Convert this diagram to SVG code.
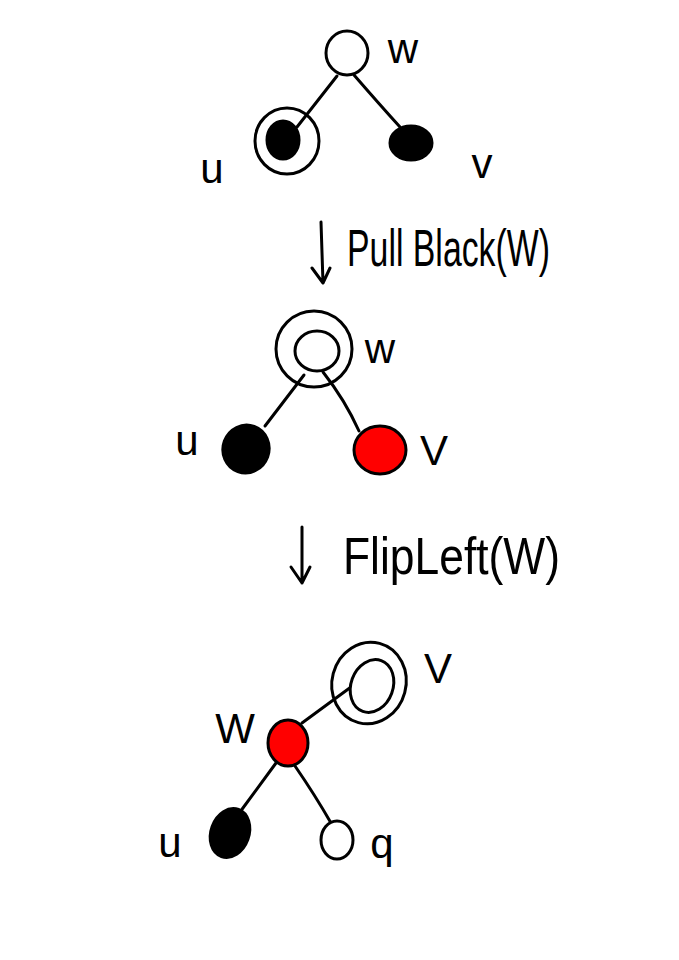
<svg xmlns="http://www.w3.org/2000/svg" width="679" height="960" viewBox="0 0 679 960">
<style>
.ln{fill:none;stroke:#000;stroke-width:3;stroke-linecap:round;stroke-linejoin:round}
.wh{fill:#fff;stroke:#000;stroke-width:3}
.bk{fill:#000;stroke:#000;stroke-width:3}
.rd{fill:#ff0000;stroke:#000;stroke-width:3}
.ring{fill:none;stroke:#000;stroke-width:3}
.lb{font-family:"Liberation Sans","DejaVu Sans",sans-serif;font-size:42px;fill:#000;text-anchor:middle}
.op{font-family:"Liberation Sans","DejaVu Sans",sans-serif;font-size:52px;fill:#000}
</style>
<rect width="679" height="960" fill="#fff"/>
<g id="connectors">
  <path class="ln" d="M337,76 L297,127"/>
  <path class="ln" d="M354,75 Q380,105 400,127"/>
  <path class="ln" d="M304,375 L265,426"/>
  <path class="ln" d="M323,372 Q345,400 359,431"/>
  <path class="ln" d="M302,723 L351,687"/>
  <path class="ln" d="M276,763 L240,812"/>
  <path class="ln" d="M295,766 Q315,795 331,823"/>
  <path class="ln" d="M321,222 L323,283 M312,268 L323,283 L330,268"/>
  <path class="ln" d="M302,527 L302,583 M291,567 L302,583 L310,567"/>
</g>
<g id="op1"><text class="op" x="347" y="266" textLength="203" lengthAdjust="spacingAndGlyphs">Pull Black(W)</text></g>
<g id="op2"><text class="op" x="343" y="574" textLength="217" lengthAdjust="spacingAndGlyphs">FlipLeft(W)</text></g>
<g id="t1-w">
  <ellipse class="wh" cx="347" cy="53" rx="21" ry="22"/>
  <text class="lb" x="403" y="63">w</text>
</g>
<g id="t1-u">
  <ellipse class="bk" cx="283" cy="140" rx="16" ry="19"/>
  <ellipse class="ring" cx="287" cy="141" rx="32" ry="33"/>
  <text class="lb" x="212" y="183">u</text>
</g>
<g id="t1-v">
  <ellipse class="bk" cx="411" cy="143" rx="21" ry="17"/>
  <text class="lb" x="482" y="178">v</text>
</g>
<g id="t2-w">
  <ellipse class="wh" cx="317" cy="351" rx="22" ry="20"/>
  <ellipse class="ring" cx="314" cy="349" rx="38" ry="38"/>
  <text class="lb" x="380" y="363">w</text>
</g>
<g id="t2-u">
  <ellipse class="bk" cx="246" cy="449" rx="23" ry="24" transform="rotate(20 246 449)"/>
  <text class="lb" x="187" y="455">u</text>
</g>
<g id="t2-v">
  <ellipse class="rd" cx="380" cy="450" rx="26" ry="24"/>
  <text class="lb" x="434" y="465">V</text>
</g>
<g id="t3-v">
  <ellipse class="ring" cx="369" cy="683" rx="37" ry="41" transform="rotate(15 369 683)"/>
  <ellipse class="wh" cx="372" cy="686" rx="21" ry="27" transform="rotate(20 372 686)"/>
  <text class="lb" x="438" y="683">V</text>
</g>
<g id="t3-w">
  <ellipse class="rd" cx="288" cy="743" rx="20" ry="23"/>
  <text class="lb" x="235" y="743">W</text>
</g>
<g id="t3-u">
  <ellipse class="bk" cx="230" cy="833" rx="19" ry="25" transform="rotate(20 230 833)"/>
  <text class="lb" x="170" y="857">u</text>
</g>
<g id="t3-q">
  <ellipse class="wh" cx="337" cy="840" rx="16" ry="19"/>
  <text class="lb" x="382" y="858">q</text>
</g>
</svg>
